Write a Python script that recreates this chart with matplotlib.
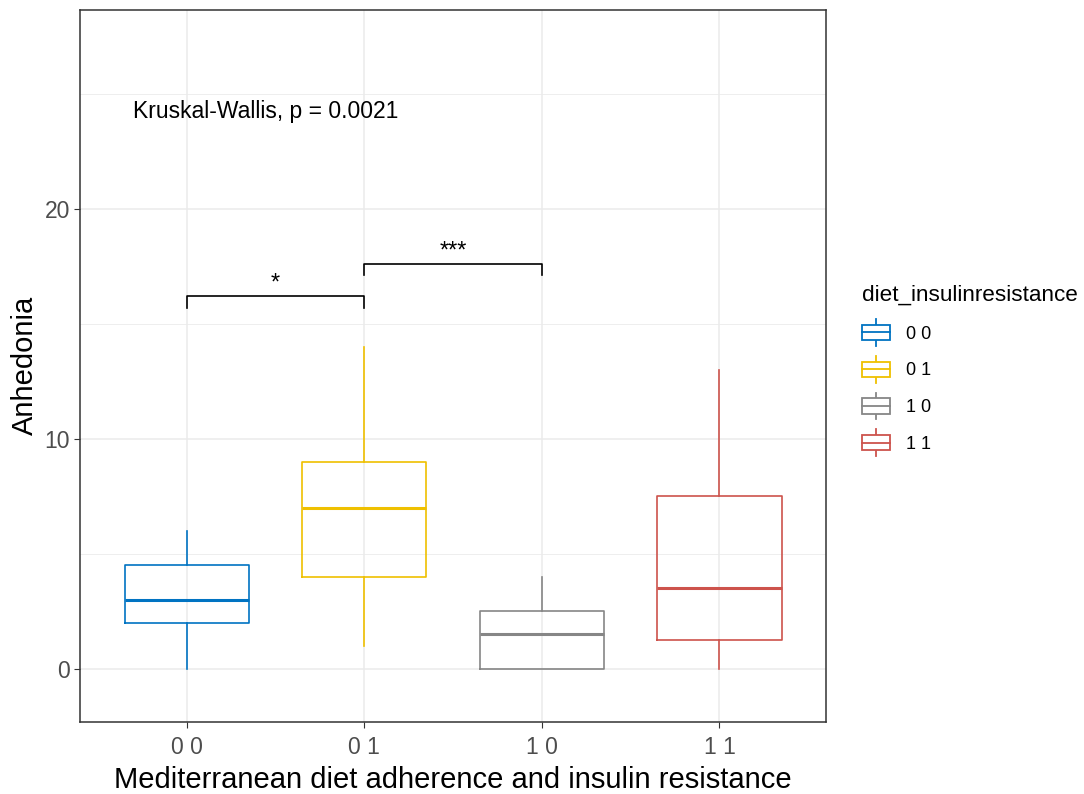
import matplotlib.pyplot as plt
import numpy as np
from matplotlib.legend_handler import HandlerBase
from matplotlib.patches import Rectangle
from matplotlib.lines import Line2D

plt.rcParams['font.family'] = ['Liberation Sans', 'DejaVu Sans']

groups = ['0 0', '0 1', '1 0', '1 1']
colors = ['#0073C2', '#EFC000', '#868686', '#CD534C']
whisker_lo = [0, 1, 0, 0]
q1 = [2, 4, 0, 1.25]
medians = [3, 7, 1.5, 3.5]
q3 = [4.5, 9, 2.5, 7.5]
whisker_hi = [6, 14, 4, 13]

# pairwise comparisons: (group a, group b, bracket height, label)
comparisons = [(0, 1, 16.2, '*'), (1, 2, 17.6, '***')]
kw_label = 'Kruskal-Wallis, p = 0.0021'


class BoxHandler(HandlerBase):
    def __init__(self, color):
        super().__init__()
        self.color = color

    def create_artists(self, legend, orig_handle, xdescent, ydescent,
                       width, height, fontsize, trans):
        c = self.color
        cx = width / 2 - xdescent
        bw = width
        y0 = -ydescent
        rect = Rectangle((cx - bw / 2, y0 + height * 0.1), bw, height * 0.8,
                         facecolor='white', edgecolor=c, lw=1.3, transform=trans)
        mid = Line2D([cx - bw / 2, cx + bw / 2], [y0 + height / 2] * 2,
                     color=c, lw=1.3, transform=trans)
        top = Line2D([cx, cx], [y0 + height * 0.9, y0 + height * 1.2],
                     color=c, lw=1.3, transform=trans)
        bot = Line2D([cx, cx], [y0 + height * 0.1, y0 - height * 0.2],
                     color=c, lw=1.3, transform=trans)
        return [top, bot, rect, mid]


fig = plt.figure(figsize=(10.84, 7.94), dpi=100)
ax = fig.add_axes([0.074, 0.091, 0.688, 0.897])

stats = []
for i in range(len(groups)):
    stats.append(dict(med=medians[i], q1=q1[i], q3=q3[i],
                      whislo=whisker_lo[i], whishi=whisker_hi[i], fliers=[]))

positions = np.arange(1, len(groups) + 1)
for i, st in enumerate(stats):
    c = colors[i]
    ax.bxp([st], positions=[positions[i]], widths=0.7, showcaps=False,
           boxprops=dict(color=c, lw=1.2),
           whiskerprops=dict(color=c, lw=1.2),
           medianprops=dict(color=c, lw=2.2),
           manage_ticks=False, zorder=3)

for a, b, h, lab in comparisons:
    xa, xb = positions[a], positions[b]
    ax.plot([xa, xa, xb, xb], [h - 0.5, h, h, h - 0.5], color='black', lw=1.2, zorder=4)
    ax.text((xa + xb) / 2, h + 0.05, lab, ha='center', va='bottom', fontsize=17)

ax.text(0.695, 24.2, kw_label, ha='left', va='center', fontsize=16.5)

ax.set_xlim(0.4, 4.6)
ax.set_ylim(-2.3, 28.65)
ax.set_xticks(positions)
ax.set_xticklabels(groups)
ax.set_yticks([0, 10, 20])
ax.set_yticks([5, 15, 25], minor=True)
ax.grid(True, which='major', color='#EBEBEB', lw=1.1, zorder=0)
ax.grid(True, which='minor', axis='y', color='#EBEBEB', lw=0.6, zorder=0)
ax.tick_params(axis='both', which='major', labelsize=16.5, labelcolor='#4D4D4D',
               color='#333333', length=4)
ax.tick_params(axis='x', which='major', pad=6)
ax.tick_params(axis='y', which='minor', length=0)
ax.set_axisbelow(True)
for s in ax.spines.values():
    s.set_color('#333333')
    s.set_linewidth(1.1)

ax.set_xlabel('Mediterranean diet adherence and insulin resistance', fontsize=21, labelpad=5)
ax.set_ylabel('Anhedonia', fontsize=21, labelpad=4)

handles = [Rectangle((0, 0), 1, 1) for _ in groups]
hmap = {h: BoxHandler(c) for h, c in zip(handles, colors)}
leg = fig.legend(handles, groups, title='diet_insulinresistance', handler_map=hmap,
                 loc='upper left', bbox_to_anchor=(0.785, 0.655), frameon=False,
                 fontsize=13, title_fontsize=16.2, handlelength=1.55, handleheight=1.25,
                 labelspacing=0.95, handletextpad=0.9, alignment='left',
                 borderaxespad=0.2)

fig.savefig('out.png', dpi=100)
